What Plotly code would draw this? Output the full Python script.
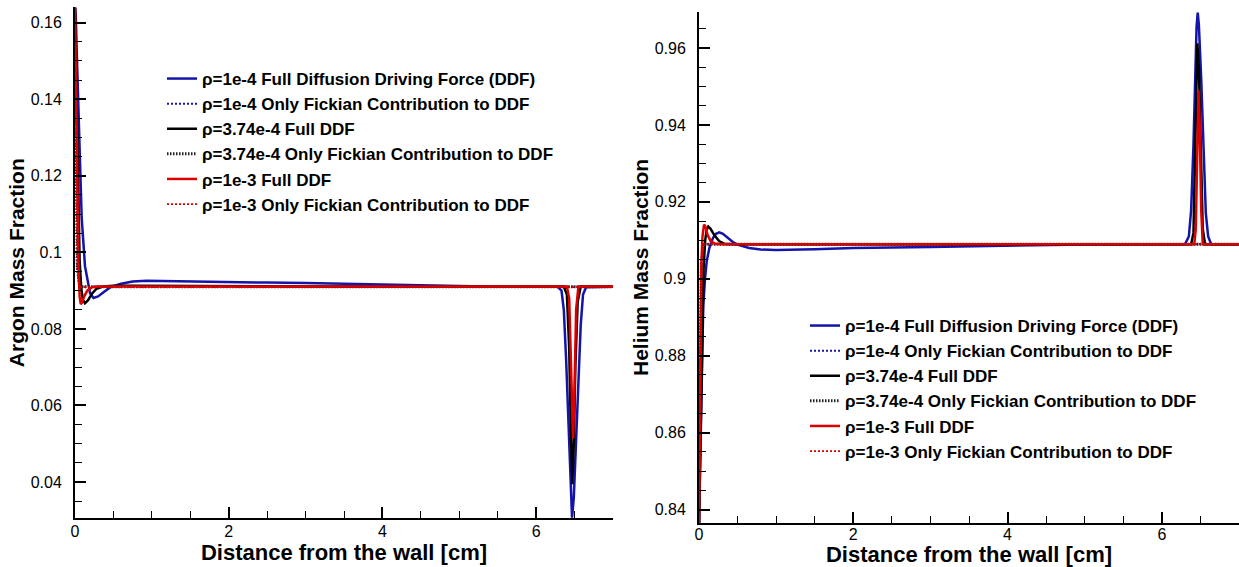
import plotly.graph_objects as go

# ---------------- Argon (left panel) ----------------
ar_blue_full_x = [0, 0.01, 0.022, 0.043, 0.065, 0.087, 0.13, 0.195, 0.24, 0.3, 0.38, 0.46, 0.6, 0.75, 0.93,
                  1.2, 1.6, 2.0, 2.5, 3.0, 3.5, 4.0, 4.5, 5.0, 5.5, 6.0, 6.28, 6.33, 6.36, 6.39, 6.42, 6.445,
                  6.467, 6.49, 6.52, 6.55, 6.58, 6.61, 6.65, 7.0]
ar_blue_full_y = [0.164, 0.162, 0.153, 0.140, 0.1225, 0.109, 0.0964, 0.0894, 0.0881, 0.0885, 0.0897, 0.0909,
                  0.0918, 0.0924, 0.0926, 0.0925, 0.0923, 0.0922, 0.0921, 0.0920, 0.0918, 0.0916, 0.0913,
                  0.0911, 0.0910, 0.0910, 0.0910, 0.0900, 0.085, 0.072, 0.055, 0.040, 0.0307, 0.036, 0.050,
                  0.066, 0.081, 0.089, 0.0909, 0.0910]

ar_black_full_x = [0, 0.02, 0.04, 0.06, 0.08, 0.10, 0.13, 0.17, 0.22, 0.28, 0.37, 0.5, 0.8, 1.5, 3.0, 5.0,
                   6.36, 6.40, 6.43, 6.45, 6.47, 6.49, 6.51, 6.54, 6.58, 7.0]
ar_black_full_y = [0.164, 0.140, 0.115, 0.098, 0.091, 0.0877, 0.0867, 0.0875, 0.0892, 0.0905, 0.0911, 0.0913,
                   0.0913, 0.0912, 0.0911, 0.0911, 0.0911, 0.089, 0.075, 0.055, 0.0394, 0.050, 0.070, 0.087,
                   0.0911, 0.0911]

ar_red_full_x = [0, 0.015, 0.03, 0.045, 0.06, 0.075, 0.09, 0.12, 0.16, 0.22, 0.3, 1.0, 3.0, 5.0,
                 6.40, 6.43, 6.45, 6.47, 6.48, 6.50, 6.52, 6.55, 7.0]
ar_red_full_y = [0.164, 0.140, 0.115, 0.097, 0.0885, 0.0865, 0.0868, 0.0885, 0.0900, 0.0909, 0.0911, 0.0911,
                 0.0911, 0.0911, 0.0911, 0.088, 0.070, 0.052, 0.0513, 0.065, 0.085, 0.0911, 0.0911]

ar_fick_x = [0, 0.03, 0.06, 7.0]
ar_fick_y = [0.164, 0.096, 0.0910, 0.0910]

# ---------------- Helium (right panel) ----------------
he_blue_full_x = [0, 0.012, 0.035, 0.055, 0.078, 0.1, 0.134, 0.18, 0.22, 0.263, 0.31, 0.38, 0.45, 0.51, 0.65,
                  0.8, 1.0, 1.5, 2.0, 3.0, 4.0, 5.0, 6.0, 6.3, 6.35, 6.38, 6.41, 6.43, 6.45, 6.465, 6.48,
                  6.51, 6.54, 6.57, 6.60, 6.64, 7.0]
he_blue_full_y = [0.836, 0.850, 0.880, 0.893, 0.900, 0.9045, 0.908, 0.9106, 0.9117, 0.9121, 0.9117, 0.9105,
                  0.9094, 0.9088, 0.9080, 0.9076, 0.9075, 0.9077, 0.9080, 0.9083, 0.9086, 0.9089, 0.9090,
                  0.9090, 0.911, 0.918, 0.935, 0.952, 0.9655, 0.9692, 0.966, 0.952, 0.932, 0.917, 0.911,
                  0.909, 0.909]

he_black_full_x = [0, 0.02, 0.04, 0.06, 0.08, 0.10, 0.12, 0.15, 0.2, 0.26, 0.33, 0.45, 2.0, 4.0,
                   6.38, 6.41, 6.43, 6.45, 6.46, 6.48, 6.50, 6.53, 6.56, 7.0]
he_black_full_y = [0.836, 0.862, 0.888, 0.903, 0.910, 0.9128, 0.9136, 0.913, 0.9113, 0.9098, 0.9091, 0.909,
                   0.909, 0.909, 0.909, 0.912, 0.930, 0.955, 0.9612, 0.955, 0.935, 0.913, 0.909, 0.909]

he_red_full_x = [0, 0.01, 0.02, 0.03, 0.045, 0.065, 0.085, 0.11, 0.15, 0.2, 0.3, 2.0, 4.0,
                 6.42, 6.44, 6.46, 6.475, 6.49, 6.51, 6.53, 7.0]
he_red_full_y = [0.836, 0.862, 0.889, 0.903, 0.911, 0.9141, 0.9135, 0.9115, 0.9098, 0.9092, 0.909, 0.909,
                 0.909, 0.909, 0.913, 0.935, 0.949, 0.940, 0.918, 0.909, 0.909]

he_fick_x = [0, 0.03, 0.06, 7.0]
he_fick_y = [0.836, 0.904, 0.909, 0.909]

names = [
    "ρ=1e-4 Full Diffusion Driving Force (DDF)",
    "ρ=1e-4 Only Fickian Contribution to DDF",
    "ρ=3.74e-4 Full DDF",
    "ρ=3.74e-4 Only Fickian Contribution to DDF",
    "ρ=1e-3 Full DDF",
    "ρ=1e-3 Only Fickian Contribution to DDF",
]

BLUE = "#1414a8"
RED = "#dc0000"
BLACK = "#000000"

styles = [
    dict(color=BLUE, width=2.5, dash="solid"),
    dict(color=BLUE, width=2, dash="2px,2px"),
    dict(color=BLACK, width=2.5, dash="solid"),
    dict(color="#222222", width=3, dash="1.5px,1.5px"),
    dict(color=RED, width=2.5, dash="solid"),
    dict(color=RED, width=1.8, dash="2px,2px"),
]

left_data = [
    (ar_blue_full_x, ar_blue_full_y), (ar_fick_x, ar_fick_y),
    (ar_black_full_x, ar_black_full_y), (ar_fick_x, ar_fick_y),
    (ar_red_full_x, ar_red_full_y), (ar_fick_x, ar_fick_y),
]
right_data = [
    (he_blue_full_x, he_blue_full_y), (he_fick_x, he_fick_y),
    (he_black_full_x, he_black_full_y), (he_fick_x, he_fick_y),
    (he_red_full_x, he_red_full_y), (he_fick_x, he_fick_y),
]

fig = go.Figure()
for (x, y), nm, st in zip(left_data, names, styles):
    fig.add_trace(go.Scatter(x=x, y=y, mode="lines", name=nm, line=st,
                             xaxis="x", yaxis="y", legend="legend"))
for (x, y), nm, st in zip(right_data, names, styles):
    fig.add_trace(go.Scatter(x=x, y=y, mode="lines", name=nm, line=st,
                             xaxis="x2", yaxis="y2", legend="legend2"))

FONT = "Liberation Sans, Arial, sans-serif"
W, H = 1239, 567
MB = 44              # bottom margin (room for x-axis titles)
PH = H - MB          # plot-area height


def xd(a, b):
    return [a / W, b / W]


def yd(top_px, bottom_px):
    return [(PH - bottom_px) / PH, (PH - top_px) / PH]


def ypx(px):
    return (PH - px) / PH


common_axis = dict(
    showline=True, linecolor="black", linewidth=2, mirror=False,
    ticks="inside", ticklen=11, tickwidth=2, tickcolor="black",
    showgrid=False, zeroline=False, automargin=False,
    tickfont=dict(family=FONT, size=16, color="black"),
)
minor_x = dict(ticks="inside", ticklen=7, tickwidth=1, dtick=0.5, tickcolor="black")
minor_y = dict(ticks="inside", ticklen=7, tickwidth=1, dtick=0.005, tickcolor="black")

x_title = dict(text="Distance from the wall [cm]",
               font=dict(family=FONT, size=22, color="black", weight="bold"), standoff=2)

legend_font = dict(family=FONT, size=17, color="black", weight="bold")

fig.update_layout(
    width=W, height=H,
    margin=dict(l=0, r=0, t=0, b=MB),
    paper_bgcolor="white", plot_bgcolor="white",
    xaxis=dict(common_axis, domain=xd(75, 613), range=[0, 7], dtick=2, tick0=0, anchor="y",
               minor=minor_x, ticklabelstandoff=-2, title=x_title),
    yaxis=dict(common_axis, domain=yd(7.4, 518), range=[0.0306, 0.164], dtick=0.02, tick0=0, anchor="x",
               minor=minor_y, ticklabelstandoff=8,
               title=dict(text="Argon Mass Fraction",
                          font=dict(family=FONT, size=21, color="black", weight="bold"), standoff=0)),
    xaxis2=dict(common_axis, domain=xd(699, 1239), range=[0, 7], dtick=2, tick0=0, anchor="y2",
                minor=minor_x, ticklabelstandoff=-4, title=x_title),
    yaxis2=dict(common_axis, domain=yd(11.9, 523), range=[0.8365, 0.9694], dtick=0.02, tick0=0, anchor="x2",
                minor=minor_y, ticklabelstandoff=8,
                title=dict(text="Helium Mass Fraction",
                           font=dict(family=FONT, size=21, color="black", weight="bold"), standoff=0)),
    legend=dict(x=162 / W, y=ypx(61), xanchor="left", yanchor="top",
                bgcolor="rgba(0,0,0,0)", tracegroupgap=0, font=legend_font),
    legend2=dict(x=805 / W, y=ypx(308), xanchor="left", yanchor="top",
                 bgcolor="rgba(0,0,0,0)", tracegroupgap=0, font=legend_font),
)

fig.write_html("out.html")
